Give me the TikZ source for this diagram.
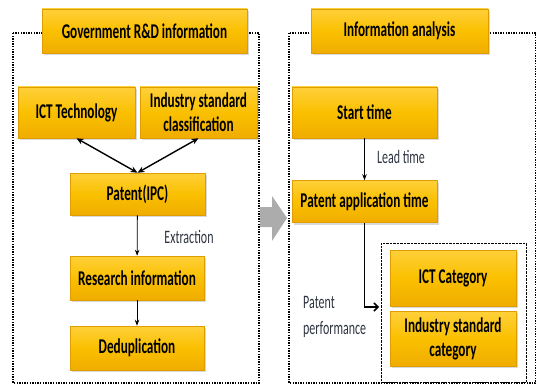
\documentclass[tikz,border=0pt]{standalone}
\usepackage{fontspec}
\setmainfont{Carlito}[FakeStretch=0.63]
\usepackage{xcolor}
\usetikzlibrary{arrows.meta, shadows}

\definecolor{ouro}{HTML}{FAC000}
\definecolor{ouroclaro}{HTML}{FFD03A}
\definecolor{ouroescuro}{HTML}{F0AC00}
\definecolor{borda}{HTML}{DE9E00}
\definecolor{rotulocor}{HTML}{2E3440}

\begin{document}
\begin{tikzpicture}[x=1pt,y=-1pt,
  caixa/.style={draw=borda, line width=0.5pt, top color=ouroclaro, bottom color=ouroescuro, middle color=ouro,
    drop shadow={shadow xshift=1.5pt, shadow yshift=-2pt, opacity=0.3},
    inner sep=0pt, align=center, font=\fontsize{21}{24}\selectfont\bfseries},
  quadro/.style={line width=1.4pt, dash pattern=on 1.4pt off 1.2pt},
  rotulo/.style={text=rotulocor, font=\fontsize{19}{26}\selectfont, inner sep=0pt},
  fino/.style={-{Stealth[length=6pt,width=4.5pt]}, line width=0.8pt},
  duplo/.style={{Stealth[length=7pt,width=6pt]}-{Stealth[length=7pt,width=6pt]}, line width=1.4pt}]

\useasboundingbox (0,0) rectangle (537,385);

% Moldura da esquerda (pontilhada)
\draw[quadro] (13,33) rectangle (259,383);

% Moldura da direita
\draw[quadro] (289,33) rectangle (535.5,383);

% Seta cinza entre as molduras
\fill[gray!65] (260,207) -- (272,207) -- (272,196) -- (287,218) -- (272,241) -- (272,227) -- (260,227) -- cycle;

% Titulos
\node[caixa, minimum width=205, minimum height=44] (titulo1) at (144.5,31) {Government R\&D information};
\node[caixa, minimum width=177, minimum height=44] (titulo2) at (399.5,31) {Information analysis};

% Lado esquerdo
\node[caixa, minimum width=117, minimum height=51] (ict) at (76.5,112.5) {ICT Technology};
\node[caixa, minimum width=117, minimum height=51] (isc) at (198.5,112.5) {Industry standard\\classification};
\node[caixa, minimum width=135, minimum height=42] (ipc) at (137.5,194) {Patent(IPC)};
\node[caixa, minimum width=134, minimum height=44] (pesquisa) at (137,278) {Research information};
\node[caixa, minimum width=134, minimum height=44] (dedup) at (137,348) {Deduplication};

\draw[duplo] (ict.south) -- (ipc.north);
\draw[duplo] (isc.south) -- (ipc.north);
\draw[fino] (ipc) -- (pesquisa);
\draw[fino] (pesquisa) -- (dedup);
\node[rotulo] (extracao) at (189,237) {Extraction};

% Lado direito
\node[caixa, minimum width=145, minimum height=51] (inicio) at (364.5,112.5) {Start time};
\node[caixa, minimum width=145, minimum height=42] (pedido) at (364.5,201.5) {Patent application time};
\draw[fino] (inicio) -- (pedido);
\node[rotulo] (lead) at (401,157) {Lead time};

% Grupo de categorias
\draw[line width=0.7pt, dash pattern=on 0.7pt off 0.7pt] (381,243) rectangle (526,382);
\node[caixa, minimum width=126, minimum height=56] (ictcat) at (453,278) {ICT Category};
\node[caixa, minimum width=126, minimum height=55] (indcat) at (453,338.5) {Industry standard\\category};

\coordinate (entrada) at (379,307);
\draw[line width=1.5pt, -{Straight Barb[length=4pt,width=8pt]}] (pedido.south) |- (entrada);
\node[rotulo, anchor=west, align=left] (desempenho) at (303,317) {Patent\\performance};

\end{tikzpicture}
\end{document}
